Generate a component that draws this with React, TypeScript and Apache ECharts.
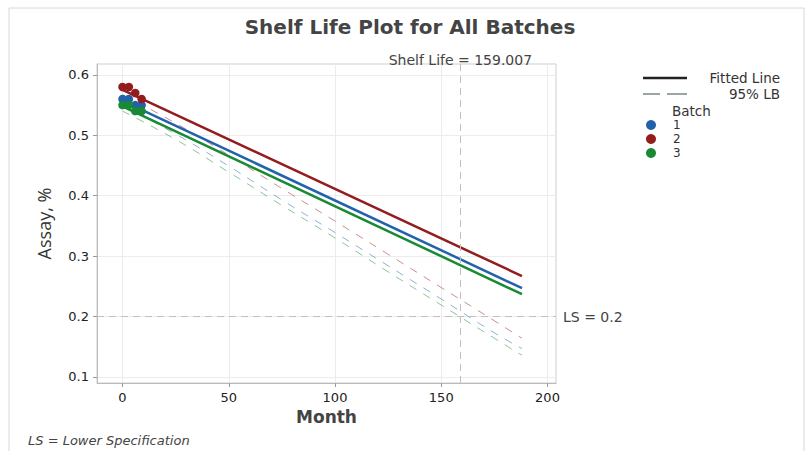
import React, { useEffect, useRef } from "react";
import * as echarts from "echarts";

const months = [0, 3, 6, 9];
const batch1 = [0.56, 0.56, 0.55, 0.55];
const batch2 = [0.58, 0.58, 0.57, 0.56];
const batch3 = [0.55, 0.55, 0.54, 0.54];

const fitX = [0, 188];
const fit1 = [0.557, 0.247];
const fit2 = [0.575, 0.267];
const fit3 = [0.548, 0.237];

const lbX = [0, 25, 50, 75, 100, 125, 150, 175, 188];
const lb1 = [0.549, 0.502, 0.449, 0.393, 0.339, 0.284, 0.229, 0.173, 0.147];
const lb2 = [0.567, 0.52, 0.467, 0.412, 0.358, 0.303, 0.248, 0.193, 0.164];
const lb3 = [0.54, 0.493, 0.439, 0.384, 0.33, 0.274, 0.219, 0.164, 0.136];

const xTicks = [0, 50, 100, 150, 200];
const yTicks = [0.1, 0.2, 0.3, 0.4, 0.5, 0.6];
const shelfLife = 159.007;
const lowerSpec = 0.2;

const colors = ["#2262ad", "#931c1f", "#178a33"];
const batchNames = ["1", "2", "3"];
const FONT = "DejaVu Sans";

const zip = (xs: number[], ys: number[]) => xs.map((x, i) => [x, ys[i]]);

export default function App() {
  const ref = useRef<HTMLDivElement>(null);
  useEffect(() => {
    if (!ref.current) return;
    const chart = echarts.init(ref.current, null, { renderer: "svg" });
    const pts = [batch1, batch2, batch3];
    const fits = [fit1, fit2, fit3];
    const lbs = [lb1, lb2, lb3];
    const series: any[] = [];
    fits.forEach((f, i) => {
      series.push({
        name: "fit" + i,
        type: "line",
        data: zip(fitX, f),
        symbol: "none",
        lineStyle: { color: colors[i], width: 2.5 },
        z: 3,
      });
    });
    lbs.forEach((l, i) => {
      series.push({
        name: "lb" + i,
        type: "line",
        data: zip(lbX, l),
        symbol: "none",
        smooth: true,
        lineStyle: { color: colors[i], width: 1, type: [8, 8], opacity: 0.5 },
        z: 2,
      });
    });
    pts.forEach((p, i) => {
      series.push({
        name: batchNames[i],
        type: "scatter",
        data: zip(months, p),
        symbolSize: 8.5,
        itemStyle: { color: colors[i], opacity: 1 },
        z: 4,
      });
    });
    series.push({
      name: "Fitted Line",
      type: "line",
      data: [],
      symbol: "none",
      itemStyle: { color: "#222" },
      lineStyle: { color: "#222", width: 2.5 },
    });
    series.push({
      name: "95% LB",
      type: "line",
      data: [],
      symbol: "none",
      itemStyle: { color: "#9aa5a5" },
      lineStyle: { color: "#9aa5a5", width: 1, type: [14, 8] },
    });
    series.push({
      name: "refs",
      type: "line",
      data: [],
      symbol: "none",
      markLine: {
        silent: true,
        symbol: "none",
        lineStyle: { color: "#c0c0c0", type: [7, 5], width: 1 },
        data: [
          {
            xAxis: shelfLife,
            label: {
              formatter: "Shelf Life = " + shelfLife.toFixed(3),
              position: "end",
              distance: -3,
              color: "#444",
              fontSize: 14,
              fontFamily: FONT,
            },
          },
          {
            yAxis: lowerSpec,
            label: {
              formatter: "LS = " + lowerSpec,
              position: "end",
              distance: 7,
              color: "#444",
              fontSize: 14,
              fontFamily: FONT,
            },
          },
        ],
      },
    });

    chart.setOption({
      animation: false,
      textStyle: { fontFamily: FONT },
      title: [
        {
          text: "Shelf Life Plot for All Batches",
          left: 410,
          textAlign: "center",
          top: 17,
          padding: 0,
          textStyle: { fontSize: 20, fontWeight: "bold", color: "#444", fontFamily: FONT },
        },
        {
          text: "Batch",
          left: 672,
          top: 103,
          padding: 0,
          textStyle: { fontSize: 13.5, fontWeight: "normal", color: "#333", fontFamily: FONT, lineHeight: 15 },
        },
        {
          text: "LS = Lower Specification",
          left: 28,
          top: 432,
          padding: 0,
          textStyle: { fontSize: 13, fontWeight: "normal", fontStyle: "italic", color: "#444", fontFamily: FONT, lineHeight: 16 },
        },
      ],
      graphic: [
        {
          type: "rect",
          shape: { x: 9, y: 8, width: 795, height: 460 },
          style: { fill: "none", stroke: "#d8d8d8", lineWidth: 1 },
          silent: true,
        },
      ],
      legend: [
        {
          data: [
            { name: "Fitted Line", icon: "rect" },
            { name: "95% LB", icon: "path://M0,0h17v2h-17z M24,0h20v2h-20z" },
          ],
          orient: "vertical",
          left: 643,
          top: 71,
          padding: 0,
          itemWidth: 44,
          itemHeight: 2.5,
          itemGap: 2,
          formatter: (n: string) => `{r|${n}}`,
          textStyle: {
            color: "#333",
            fontSize: 13.5,
            fontFamily: FONT,
            lineHeight: 14,
            rich: { r: { width: 88, align: "right", fontSize: 13.5, lineHeight: 14, color: "#333", fontFamily: FONT } },
          },
        },
        {
          data: batchNames,
          orient: "vertical",
          left: 646,
          top: 118,
          padding: 0,
          icon: "circle",
          itemWidth: 10,
          itemHeight: 10,
          itemGap: 0,
          textStyle: { color: "#333", fontSize: 12, lineHeight: 14, fontFamily: FONT, padding: [0, 0, 0, 12] },
        },
      ],
      grid: {
        left: 97,
        right: 252,
        top: 64,
        bottom: 68,
        show: true,
        borderColor: "#cfcfcf",
        borderWidth: 1,
      },
      xAxis: {
        type: "value",
        min: -12,
        max: 204,
        name: "Month",
        nameLocation: "middle",
        nameGap: 24,
        nameTextStyle: { fontSize: 17, fontWeight: "bold", color: "#444", fontFamily: FONT },
        axisLine: { show: true, onZero: false, lineStyle: { color: "#bbb" } },
        axisTick: { show: true, length: 4, customValues: xTicks, lineStyle: { color: "#999" } },
        axisLabel: { customValues: xTicks, color: "#222", fontSize: 13, margin: 8, fontFamily: FONT },
        splitLine: { show: true, lineStyle: { color: "#ececec" } },
      },
      yAxis: {
        type: "value",
        min: 0.09,
        max: 0.618,
        name: "Assay, %",
        nameLocation: "middle",
        nameGap: 44,
        nameTextStyle: { fontSize: 18, fontWeight: 500, color: "#333", fontFamily: "Open Sans" },
        axisLine: { show: true, onZero: false, lineStyle: { color: "#bbb" } },
        axisTick: { show: true, length: 4, customValues: yTicks, lineStyle: { color: "#999" } },
        axisLabel: {
          customValues: yTicks,
          color: "#222",
          fontSize: 13,
          margin: 8,
          fontFamily: FONT,
          formatter: (v: number) => v.toFixed(1),
        },
        splitLine: { show: true, lineStyle: { color: "#ececec" } },
      },
      series,
    });
    return () => chart.dispose();
  }, []);
  return <div ref={ref} style={{ position: "absolute", left: 0, top: 0, width: 808, height: 451 }} />;
}
